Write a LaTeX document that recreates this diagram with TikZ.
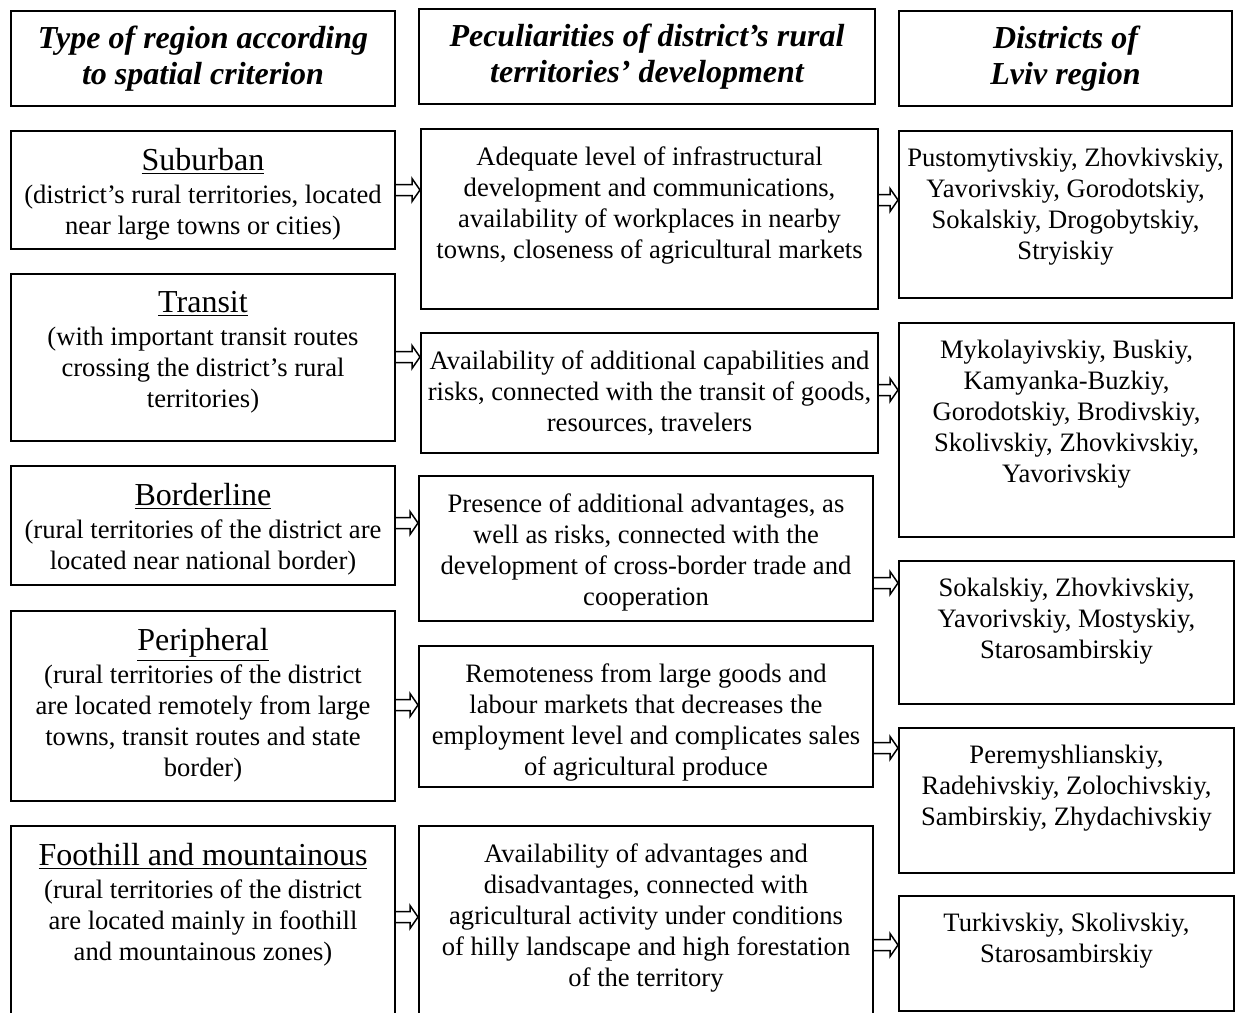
\documentclass[tikz,border=0pt]{standalone}
\usepackage{fontspec}
\setmainfont{Liberation Serif}
\usetikzlibrary{calc}

% outlined arrow from the east side of #1 to the west side of #2, at height #3
\newcommand{\hollowarrow}[3]{%
  \draw[arrow line] let \p1=(#1.east |- 0,#3), \p2=(#2.west |- 0,#3) in
    (\x1,{\y1+2.75pt}) -- ({\x2-4pt},{\y1+2.75pt}) -- ({\x2-4pt},{\y1+5.75pt})
    -- (\x2,\y1) -- ({\x2-4pt},{\y1-5.75pt}) -- ({\x2-4pt},{\y1-2.75pt})
    -- (\x1,{\y1-2.75pt});}

\begin{document}
\begin{tikzpicture}[x=0.5pt,y=-0.5pt,
  head node/.style={rectangle,draw,line width=1pt,inner sep=0pt,align=center,
    minimum height=47.5pt,anchor=north west,
    font=\fontsize{16}{18}\selectfont\bfseries\itshape},
  frame node/.style={rectangle,draw,line width=1pt,inner sep=0pt,anchor=north west},
  text node/.style={inner sep=0pt,align=center,anchor=north,yshift=-9pt,
    font=\fontsize{13.3}{15.5}\selectfont},
  arrow line/.style={line width=0.75pt,line join=miter}]

  \useasboundingbox (0,0) rectangle (1236,1012);

  % headings
  \node[head node,minimum width=192pt] (h1) at (10,10) {Type of region according\\to spatial criterion};
  \node[head node,minimum width=228pt] (h2) at (418,8) {Peculiarities of district’s rural\\territories’ development};
  \node[head node,minimum width=166.5pt] (h3) at (898,10) {Districts of\\Lviv region};

  % types of region
  \node[frame node,minimum width=192pt,minimum height=59pt] (l1) at (10,130) {};
  \node[frame node,minimum width=192pt,minimum height=83.5pt] (l2) at (10,273) {};
  \node[frame node,minimum width=192pt,minimum height=59.5pt] (l3) at (10,465) {};
  \node[frame node,minimum width=192pt,minimum height=95pt] (l4) at (10,610) {};
  \node[frame node,minimum width=192pt,minimum height=100pt] (l5) at (10,825) {};

  \node[text node] (l1t) at (l1.north) {{\fontsize{16}{18}\selectfont\underline{Suburban}}\\[1pt]
    (district’s rural territories, located\\near large towns or cities)};
  \node[text node] (l2t) at (l2.north) {{\fontsize{16}{18}\selectfont\underline{Transit}}\\[1pt]
    (with important transit routes\\crossing the district’s rural\\territories)};
  \node[text node] (l3t) at (l3.north) {{\fontsize{16}{18}\selectfont\underline{Borderline}}\\[1pt]
    (rural territories of the district are\\located near national border)};
  \node[text node] (l4t) at (l4.north) {{\fontsize{16}{18}\selectfont\underline{Peripheral}}\\[1pt]
    (rural territories of the district\\are located remotely from large\\towns, transit routes and state\\border)};
  \node[text node] (l5t) at (l5.north) {{\fontsize{16}{18}\selectfont\underline{Foothill and mountainous}}\\[1pt]
    (rural territories of the district\\are located mainly in foothill\\and mountainous zones)};

  % peculiarities
  \node[frame node,minimum width=228.5pt,minimum height=90pt] (m1) at (420,128) {};
  \node[frame node,minimum width=228.5pt,minimum height=60pt] (m2) at (420,332) {};
  \node[frame node,minimum width=227pt,minimum height=72.5pt] (m3) at (418,475) {};
  \node[frame node,minimum width=227pt,minimum height=70.5pt] (m4) at (418,645) {};
  \node[frame node,minimum width=227pt,minimum height=100pt] (m5) at (418,825) {};

  \node[text node] (m1t) at (m1.north) {Adequate level of infrastructural\\development and communications,\\availability of workplaces in nearby\\towns, closeness of agricultural markets};
  \node[text node] (m2t) at (m2.north) {Availability of additional capabilities and\\risks, connected with the transit of goods,\\resources, travelers};
  \node[text node] (m3t) at (m3.north) {Presence of additional advantages, as\\well as risks, connected with the\\development of cross-border trade and\\cooperation};
  \node[text node] (m4t) at (m4.north) {Remoteness from large goods and\\labour markets that decreases the\\employment level and complicates sales\\of agricultural produce};
  \node[text node] (m5t) at (m5.north) {Availability of advantages and\\disadvantages, connected with\\agricultural activity under conditions\\of hilly landscape and high forestation\\of the territory};

  % districts
  \node[frame node,minimum width=166.5pt,minimum height=83.5pt] (r1) at (898,130) {};
  \node[frame node,minimum width=167.5pt,minimum height=107pt] (r2) at (898,322) {};
  \node[frame node,minimum width=167.5pt,minimum height=71.5pt] (r3) at (898,560) {};
  \node[frame node,minimum width=167.5pt,minimum height=72.5pt] (r4) at (898,727) {};
  \node[frame node,minimum width=167.5pt,minimum height=57.5pt] (r5) at (898,895) {};

  \node[text node] (r1t) at (r1.north) {Pustomytivskiy, Zhovkivskiy,\\Yavorivskiy, Gorodotskiy,\\Sokalskiy, Drogobytskiy,\\Stryiskiy};
  \node[text node] (r2t) at (r2.north) {Mykolayivskiy, Buskiy,\\Kamyanka-Buzkiy,\\Gorodotskiy, Brodivskiy,\\Skolivskiy, Zhovkivskiy,\\Yavorivskiy};
  \node[text node] (r3t) at (r3.north) {Sokalskiy, Zhovkivskiy,\\Yavorivskiy, Mostyskiy,\\Starosambirskiy};
  \node[text node] (r4t) at (r4.north) {Peremyshlianskiy,\\Radehivskiy, Zolochivskiy,\\Sambirskiy, Zhydachivskiy};
  \node[text node] (r5t) at (r5.north) {Turkivskiy, Skolivskiy,\\Starosambirskiy};

  % arrows
  \hollowarrow{l1}{m1}{190}
  \hollowarrow{m1}{r1}{200}
  \hollowarrow{l2}{m2}{357}
  \hollowarrow{m2}{r2}{390}
  \hollowarrow{l3}{m3}{523}
  \hollowarrow{m3}{r3}{583}
  \hollowarrow{l4}{m4}{705}
  \hollowarrow{m4}{r4}{748}
  \hollowarrow{l5}{m5}{917}
  \hollowarrow{m5}{r5}{945}

\end{tikzpicture}
\end{document}
